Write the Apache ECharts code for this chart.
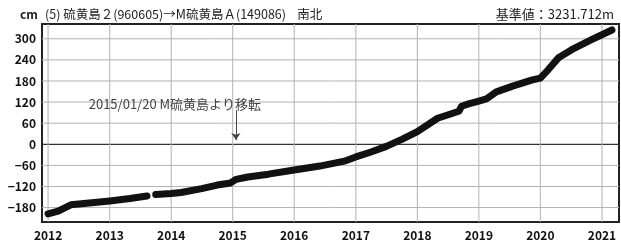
<!DOCTYPE html>
<html>
<head>
	<meta charset="utf-8" />
	<title>硫黄島 南北</title>
	<style type="text/css">
		html, body { margin: 0; padding: 0; background: #fff; }
		#main { width: 621px; height: 247px; }
	</style>
	<script src="https://cdn.jsdelivr.net/npm/echarts@6.0.0/dist/echarts.min.js"></script>
</head>
<body>
	<div id="main"></div>
	<script type="text/javascript">
		// observation dates and north-south displacement (cm); null = gap in record
		const dates = ['2012-01-01', '2012-03-01', '2012-05-15', '2012-09-01', '2013-01-01', '2013-05-01', '2013-08-10',
			'2013-09-01', '2013-10-01', '2014-01-01', '2014-03-01', '2014-07-01', '2014-10-01', '2014-12-20', '2015-01-20',
			'2015-04-01', '2015-08-01', '2016-01-01', '2016-06-01', '2016-11-01', '2017-01-01', '2017-04-01', '2017-07-01',
			'2017-10-01', '2018-01-01', '2018-05-01', '2018-09-05', '2018-09-20', '2018-11-01', '2019-01-01', '2019-02-15',
			'2019-04-15', '2019-07-25', '2019-11-15', '2020-01-01', '2020-02-15', '2020-04-20', '2020-07-20', '2020-10-25',
			'2021-03-01'];
		const values = [-198, -190, -172, -167, -161, -154, -147,
			null, -143, -140, -137, -126, -116, -110, -100,
			-93, -85, -73, -62, -47, -36, -22, -6,
			14, 36, 74, 94, 108, 115, 123, 129,
			149, 166, 183, 188, 211, 247, 273, 296,
			325];
		const yearTicks = [2012, 2013, 2014, 2015, 2016, 2017, 2018, 2019, 2020, 2021];
		const yTicks = [-180, -120, -60, 0, 60, 120, 180, 240, 300];
		const moveDate = '2015-01-20';
		const moveNote = '2015/01/20 M硫黄島より移転';

		const t = (s) => new Date(s + 'T00:00:00Z').getTime();
		const xMin = t('2011-11-26');
		const xMax = t('2021-04-12');
		const yMin = -221;
		const yMax = 342;
		const lineData = dates.map((d, i) => [t(d), values[i] === null ? '-' : values[i]]);
		const xTicks = yearTicks.map((y) => Date.UTC(y, 0, 1));
		const narrow = "'Liberation Sans Narrow', 'Arial Narrow', 'Noto Sans CJK JP', sans-serif";
		const jp = "'Noto Sans CJK JP', sans-serif";

		// grid lines as plain two-point line series under the data (zero line solid and dark)
		const gridSeries = (pts, color, width) => ({
			type: 'line',
			data: pts,
			symbol: 'none',
			silent: true,
			z: 1,
			animation: false,
			lineStyle: { color: color, width: width, type: 'solid' }
		});
		const gridLines = [];
		yTicks.forEach((v) => gridLines.push(v === 0
			? gridSeries([[xMin, v], [xMax, v]], '#333', 1.2)
			: gridSeries([[xMin, v], [xMax, v]], '#b2b2b2', 1)));
		xTicks.forEach((v) => gridLines.push(gridSeries([[v, yMin], [v, yMax]], '#b2b2b2', 1)));

		const options = {
			animation: false,
			title: [
				{ text: 'cm', left: 15, top: 3, textStyle: { fontSize: 12, fontWeight: 'bold', color: '#222', fontFamily: narrow } },
				{ text: '(5) 硫黄島２(960605)→M硫黄島Ａ(149086)    南北', left: 40, top: 3,
					textStyle: { fontSize: 12.5, fontWeight: 'normal', color: '#222', fontFamily: jp } },
				{ text: '基準値：3231.712m', right: 2, top: 3,
					textStyle: { fontSize: 13, fontWeight: 'normal', color: '#222', fontFamily: jp } }
			],
			grid: {
				left: 42, right: 2, top: 24, bottom: 25,
				show: true, borderColor: '#222', borderWidth: 2
			},
			xAxis: {
				type: 'value',
				min: xMin,
				max: xMax,
				axisLine: { show: false },
				axisTick: { show: false, customValues: xTicks },
				axisLabel: {
					customValues: xTicks,
					formatter: (v) => String(new Date(v).getUTCFullYear()),
					margin: 7, fontSize: 12, fontWeight: 'bold', color: '#111', fontFamily: narrow
				},
				splitLine: { show: false }
			},
			yAxis: {
				type: 'value',
				min: yMin,
				max: yMax,
				axisLine: { show: false },
				axisTick: { show: false, customValues: yTicks },
				axisLabel: {
					customValues: yTicks,
					formatter: (v) => String(v).replace('-', '−'),
					margin: 6, fontSize: 12, fontWeight: 'bold', color: '#111', fontFamily: narrow
				},
				splitLine: { show: false }
			},
			series: gridLines.concat([
				{
					name: '南北',
					type: 'line',
					data: lineData,
					connectNulls: false,
					symbol: 'none',
					lineStyle: { color: '#111', width: 7, cap: 'round', join: 'round' },
					z: 3,
					markLine: {
						silent: true,
						animation: false,
						symbol: ['none', 'none'],
						label: { show: false },
						lineStyle: { color: '#444', width: 1, type: 'solid' },
						data: [
							[{ coord: [t(moveDate), 97] }, { coord: [t(moveDate), 12], symbol: 'arrow', symbolSize: [7, 7] }]
						]
					},
					markPoint: {
						silent: true,
						symbolSize: 0,
						data: [{ coord: [t(moveDate), 114] }],
						label: {
							show: true,
							position: 'inside',
							offset: [-61, 0],
							formatter: moveNote,
							fontSize: 13,
							color: '#444',
							fontFamily: jp
						}
					}
				}
			])
		};

		const myChart = echarts.init(document.getElementById('main'));
		myChart.setOption(options);
	</script>
</body>
</html>
